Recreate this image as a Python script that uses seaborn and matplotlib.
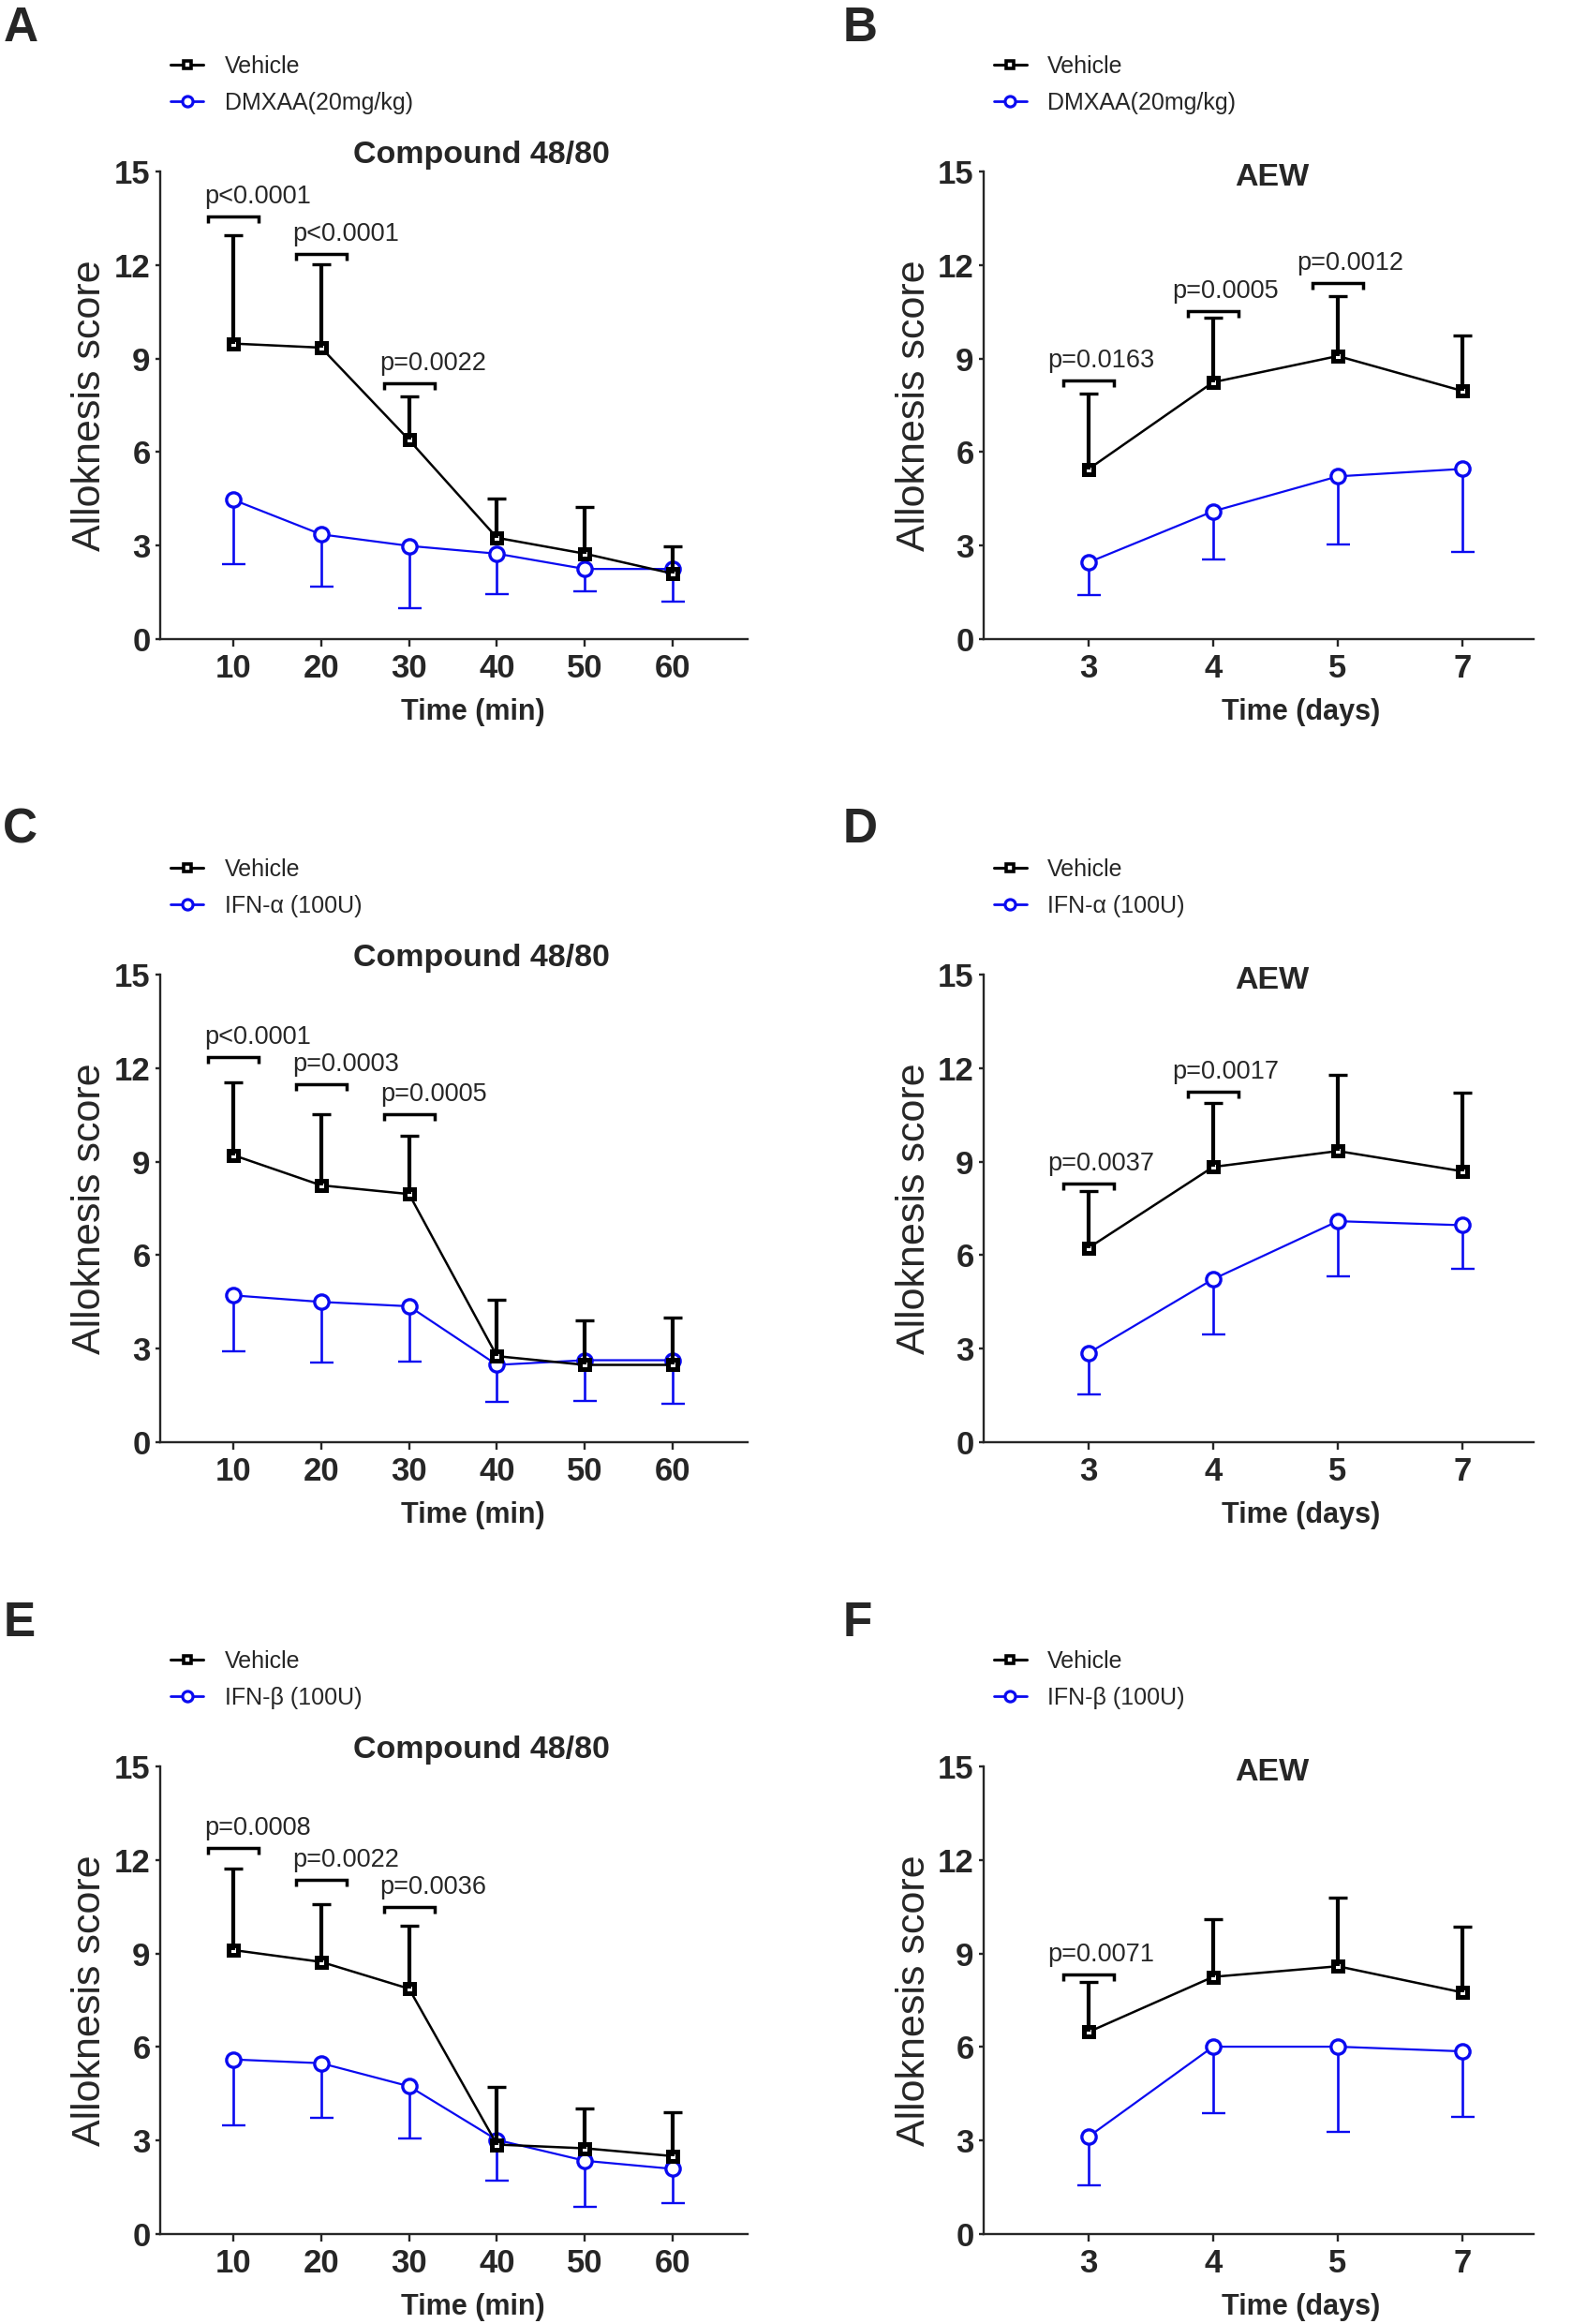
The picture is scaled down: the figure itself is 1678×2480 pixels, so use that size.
import numpy as np
import pandas as pd
import matplotlib
matplotlib.use('Agg')
import matplotlib.pyplot as plt
from matplotlib.lines import Line2D
import seaborn as sns

sns.set_style('ticks')
plt.rcParams['font.family'] = ['Liberation Sans', 'DejaVu Sans']

BLUE = '#0a0af0'

time_min = ['10', '20', '30', '40', '50', '60']
time_days = ['3', '4', '5', '7']

# A: DMXAA, compound 48/80
a_veh = [9.48, 9.35, 6.39, 3.25, 2.74, 2.10]
a_veh_err = [3.47, 2.66, 1.41, 1.27, 1.50, 0.87]
a_trt = [4.47, 3.36, 2.99, 2.74, 2.25, 2.25]
a_trt_err = [2.06, 1.69, 2.01, 1.30, 0.73, 1.04]
a_p = ['p<0.0001', 'p<0.0001', 'p=0.0022']
a_p_y = [13.56, 12.36, 8.22]

# B: DMXAA, AEW
b_veh = [5.45, 8.24, 9.08, 7.96]
b_veh_err = [2.43, 2.06, 1.91, 1.78]
b_trt = [2.46, 4.10, 5.22, 5.46]
b_trt_err = [1.05, 1.54, 2.19, 2.66]
b_p = ['p=0.0163', 'p=0.0005', 'p=0.0012']
b_p_y = [8.31, 10.53, 11.42]

# C: IFN-a, compound 48/80
c_veh = [9.21, 8.24, 7.96, 2.76, 2.48, 2.48]
c_veh_err = [2.33, 2.29, 1.87, 1.80, 1.42, 1.53]
c_trt = [4.71, 4.50, 4.36, 2.48, 2.63, 2.63]
c_trt_err = [1.80, 1.94, 1.77, 1.18, 1.30, 1.41]
c_p = ['p<0.0001', 'p=0.0003', 'p=0.0005']
c_p_y = [12.35, 11.48, 10.52]

# D: IFN-a, AEW
d_veh = [6.23, 8.83, 9.34, 8.69]
d_veh_err = [1.84, 2.04, 2.45, 2.53]
d_trt = [2.86, 5.23, 7.09, 6.96]
d_trt_err = [1.33, 1.76, 1.78, 1.40]
d_p = ['p=0.0037', 'p=0.0017']
d_p_y = [8.31, 11.25]

# E: IFN-b, compound 48/80
e_veh = [9.11, 8.73, 7.87, 2.87, 2.75, 2.50]
e_veh_err = [2.60, 1.86, 2.02, 1.84, 1.27, 1.41]
e_trt = [5.60, 5.48, 4.74, 3.02, 2.35, 2.09]
e_trt_err = [2.10, 1.76, 1.68, 1.32, 1.47, 1.09]
e_p = ['p=0.0008', 'p=0.0022', 'p=0.0036']
e_p_y = [12.39, 11.36, 10.49]

# F: IFN-b, AEW
f_veh = [6.48, 8.25, 8.59, 7.75]
f_veh_err = [1.62, 1.84, 2.20, 2.11]
f_trt = [3.12, 6.01, 6.01, 5.86]
f_trt_err = [1.55, 2.14, 2.74, 2.09]
f_p = ['p=0.0071']
f_p_y = [8.32]

W, H = 1678, 2480
fig = plt.figure(figsize=(W / 100, H / 100), dpi=100)

row_tops = [183, 1040, 1885]
ax_h = 499


def panel(ax, times, veh, veh_err, trt, trt_err, trt_name, pvals, p_y, days):
    n = len(times)
    pos = np.arange(n)
    df = pd.DataFrame({'pos': np.r_[pos, pos],
                       'score': veh + trt,
                       'group': ['Vehicle'] * n + [trt_name] * n})

    # one-sided error bars: up for vehicle, down for treatment
    eb = ax.errorbar(pos, veh, yerr=[np.zeros(n), veh_err], fmt='none', ecolor='black',
                     elinewidth=3, capsize=7, capthick=2.4, zorder=4)
    for cap in eb[1]:
        if np.allclose(cap.get_ydata(), veh):
            cap.set_visible(False)
    eb = ax.errorbar(pos, trt, yerr=[trt_err, np.zeros(n)], fmt='none', ecolor=BLUE,
                     elinewidth=1.9, capsize=9, capthick=1.7, zorder=3)
    for cap in eb[1]:
        if np.allclose(cap.get_ydata(), trt):
            cap.set_visible(False)

    sns.lineplot(data=df[df.group == 'Vehicle'], x='pos', y='score', color='black',
                 marker='s', markersize=7.5, markeredgewidth=3.6, markeredgecolor='black',
                 markerfacecolor='white', linewidth=1.8, ax=ax, zorder=3.5, legend=False)
    sns.lineplot(data=df[df.group == trt_name], x='pos', y='score', color=BLUE,
                 marker='o', markersize=11, markeredgewidth=2.4, markeredgecolor=BLUE,
                 markerfacecolor='white', linewidth=1.6, ax=ax, zorder=3.2, legend=False)

    if days:
        ax.set_xlim(-0.84, n - 1 + 0.57)
    else:
        ax.set_xlim(-0.83, n - 1 + 0.85)
    ax.set_ylim(0, 15)
    ax.set_yticks(range(0, 16, 3))
    ax.set_xticks(pos)
    ax.set_xticklabels(times)

    sns.despine(ax=ax)
    for s in ['left', 'bottom']:
        ax.spines[s].set_linewidth(1.7)
    ax.tick_params(axis='y', length=3.5, width=1.7, labelsize=25, pad=4)
    ax.tick_params(axis='x', length=6, width=1.7, labelsize=25, pad=5)
    for lab in ax.get_xticklabels() + ax.get_yticklabels():
        lab.set_fontweight('bold')

    ax.set_ylabel('Alloknesis score', fontsize=31)
    ax.set_xlabel('Time (days)' if days else 'Time (min)', fontsize=22, fontweight='bold')
    if days:
        ax.yaxis.set_label_coords(-0.092, 0.5)
        ax.xaxis.set_label_coords(0.577, -0.126)
        ax.text(0.525, 0.97, 'AEW', transform=ax.transAxes, ha='center', va='baseline',
                fontsize=24.5, fontweight='bold')
    else:
        ax.yaxis.set_label_coords(-0.087, 0.5)
        ax.xaxis.set_label_coords(0.532, -0.126)
        ax.text(0.547, 1.018, 'Compound 48/80', transform=ax.transAxes, ha='center',
                va='baseline', fontsize=24.5, fontweight='bold')

    # significance brackets
    ax_w = ax.get_position().width * W
    x0, x1 = ax.get_xlim()
    half = 27 / (ax_w / (x1 - x0))
    leg = 7 / (ax.get_position().height * H / 15)
    dx = 9.4 if days else 18.7
    for i, (lab, y) in enumerate(zip(pvals, p_y)):
        ax.plot([i - half, i - half, i + half, i + half], [y - leg, y, y, y - leg],
                color='black', lw=2.5, solid_joinstyle='miter', solid_capstyle='butt', zorder=5)
        ax.annotate(lab, (i, y), xytext=(dx, 10), textcoords='offset points',
                    ha='center', va='baseline', fontsize=19.5)

    handles = [Line2D([], [], color='black', marker='s', markersize=5.5, markeredgewidth=2.6,
                      markerfacecolor='white', markeredgecolor='black', lw=2.2),
               Line2D([], [], color=BLUE, marker='o', markersize=8, markeredgewidth=2.3,
                      markerfacecolor='white', markeredgecolor=BLUE, lw=2.0)]
    ax.legend(handles, ['Vehicle', trt_name], loc='center left',
              bbox_to_anchor=(0.018, 1.186), frameon=False, fontsize=18,
              handlelength=1.4, handletextpad=0.9, labelspacing=0.6,
              borderpad=0, borderaxespad=0)


panels = [
    ('A', 0, 0, time_min, a_veh, a_veh_err, a_trt, a_trt_err, 'DMXAA(20mg/kg)', a_p, a_p_y),
    ('B', 0, 1, time_days, b_veh, b_veh_err, b_trt, b_trt_err, 'DMXAA(20mg/kg)', b_p, b_p_y),
    ('C', 1, 0, time_min, c_veh, c_veh_err, c_trt, c_trt_err, 'IFN-α (100U)', c_p, c_p_y),
    ('D', 1, 1, time_days, d_veh, d_veh_err, d_trt, d_trt_err, 'IFN-α (100U)', d_p, d_p_y),
    ('E', 2, 0, time_min, e_veh, e_veh_err, e_trt, e_trt_err, 'IFN-β (100U)', e_p, e_p_y),
    ('F', 2, 1, time_days, f_veh, f_veh_err, f_trt, f_trt_err, 'IFN-β (100U)', f_p, f_p_y),
]

letter_base = [44, 899, 1746]

for letter, r, c, times, veh, veh_err, trt, trt_err, name, pv, py in panels:
    if c == 0:
        left, width = 171 / W, 627 / W
    else:
        left, width = 1050 / W, 587 / W
    bottom = 1 - (row_tops[r] + ax_h) / H
    ax = fig.add_axes([left, bottom, width, ax_h / H])
    panel(ax, times, veh, veh_err, trt, trt_err, name, pv, py, days=(c == 1))
    fig.text(0.002 if c == 0 else 0.536, 1 - letter_base[r] / H, letter,
             fontsize=37, fontweight='bold', va='baseline', ha='left')

fig.savefig('out.png', dpi=100)
